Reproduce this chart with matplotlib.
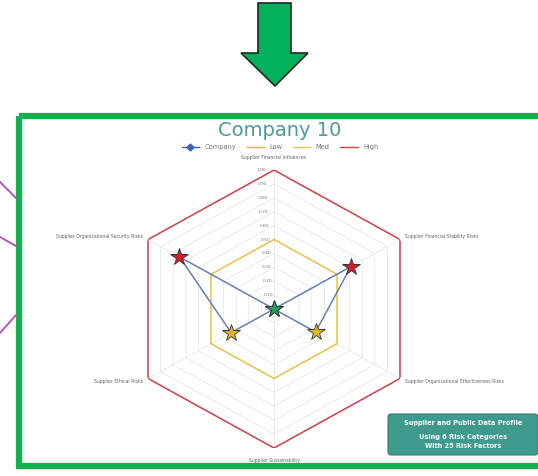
"""Radar profile for one supplier, placed on a slide-like frame."""

import numpy as np
import matplotlib.pyplot as plt
from matplotlib.lines import Line2D
from matplotlib.patches import Polygon, FancyBboxPatch

categories = [
    "Supplier Financial Influences",
    "Supplier Financial Stability Risks",
    "Supplier Organizational Effectiveness Risks",
    "Supplier Sustainability",
    "Supplier Ethical Risks",
    "Supplier Organizational Security Risks",
]
company = [0.0, 0.61, 0.33, 0.0, 0.34, 0.75]
low = [0.0, 0.0, 0.0, 0.0, 0.0, 0.0]
med = [0.5, 0.5, 0.5, 0.5, 0.5, 0.5]
high = [1.0, 1.0, 1.0, 1.0, 1.0, 1.0]
r_ticks = [0.0, 0.1, 0.2, 0.3, 0.4, 0.5, 0.6, 0.7, 0.8, 0.9, 1.0]

W, H = 538, 476
fig = plt.figure(figsize=(W / 100, H / 100), dpi=100)

# decoration layer in pixel coordinates
deco = fig.add_axes([0, 0, 1, 1])
deco.set_xlim(0, W)
deco.set_ylim(H, 0)
deco.axis("off")

arrow = [(258, 3), (291, 3), (291, 53), (308, 53), (275, 86), (241, 53), (258, 53)]
deco.add_patch(Polygon(arrow, closed=True, facecolor="#00b05a", edgecolor="#1a2a20", lw=1.2))
deco.add_patch(plt.Rectangle((19, 116), 540, 350, fill=False, edgecolor="#12b04c", lw=4.5))
for (x0, y0), (x1, y1) in [((0, 182), (16, 198)), ((0, 237), (16, 246)), ((0, 333), (16, 315))]:
    deco.plot([x0, x1], [y0, y1], color="#b04cb0", lw=1.3)

deco.add_patch(FancyBboxPatch((388, 414), 150, 41, boxstyle="round,pad=0,rounding_size=3",
                              facecolor="#3d9a8c", edgecolor="#2f7f73", lw=0.8))
deco.text(463, 423, "Supplier and Public Data Profile", color="white", fontsize=4.8,
          fontweight="bold", ha="center", va="center")
deco.text(463, 437, "Using 6 Risk Categories", color="white", fontsize=4.8,
          fontweight="bold", ha="center", va="center")
deco.text(463, 446, "With 25 Risk Factors", color="white", fontsize=4.8,
          fontweight="bold", ha="center", va="center")

deco.text(280, 131, "Company 10", color="#4f9a94", fontsize=14, ha="center", va="center")

# radar chart (slightly wider than tall, as in the slide)
cx, cy, rad_x, rad_y = 274, 309, 145.5, 139
ax = fig.add_axes([(cx - rad_x) / W, (H - cy - rad_y) / H, 2 * rad_x / W, 2 * rad_y / H],
                  projection="polar")
ax.set_aspect("auto")
ax.set_theta_offset(np.pi / 2)
ax.set_theta_direction(-1)
ax.set_ylim(0, 1)
ax.axis("off")

n = len(categories)
theta = np.linspace(0, 2 * np.pi, n, endpoint=False)
theta_c = np.append(theta, theta[0])


def closed(vals):
    return np.append(vals, vals[0])


for r in r_ticks[1:]:
    ax.plot(theta_c, [r] * (n + 1), color="#e8e8e8", lw=0.6, zorder=1)
for t in theta:
    ax.plot([t, t], [0, 1], color="#e8e8e8", lw=0.6, zorder=1)

ax.plot(theta_c, closed(low), color="#f0a848", lw=1.0, zorder=2)
ax.plot(theta_c, closed(med), color="#e8c44a", lw=1.1, zorder=2)
ax.plot(theta_c, closed(high), color="#d0404c", lw=1.1, zorder=2)
ax.plot(theta_c, closed(company), color="#6a7fb0", lw=1.1, zorder=3)

for t, v in zip(theta, company):
    if v >= 0.6:
        c = "#d41c2a"
    elif v >= 0.25:
        c = "#e2b41e"
    else:
        c = "#1ea060"
    ax.plot(t, v, marker="*", markersize=13, color=c, markeredgecolor="#333333",
            markeredgewidth=0.6, zorder=4)

for r in r_ticks:
    ax.text(np.deg2rad(-3), r, f"{r:.2f}", fontsize=3.2, color="#777777",
            ha="right", va="center", zorder=5)

label_pos = [
    (0, 1.09, "center", "center"),
    (theta[1], 1.04, "left", "center"),
    (theta[2], 1.04, "left", "center"),
    (theta[3], 1.09, "center", "center"),
    (theta[4], 1.04, "right", "center"),
    (theta[5], 1.04, "right", "center"),
]
for (t, r, ha, va), name in zip(label_pos, categories):
    ax.text(t, r, name, fontsize=3.3, color="#666666", ha=ha, va=va)

handles = [
    Line2D([], [], color="#3a60b0", marker="D", markersize=3.5, lw=1.0),
    Line2D([], [], color="#f0a848", lw=1.0),
    Line2D([], [], color="#e8c44a", lw=1.0),
    Line2D([], [], color="#d0404c", lw=1.0),
]
fig.legend(handles, ["Company", "Low", "Med", "High"], loc="center",
           bbox_to_anchor=(280 / W, 1 - 147 / H), ncol=4, frameon=False,
           fontsize=4.8, handlelength=2.6, columnspacing=1.6, labelcolor="#777777")

fig.savefig("out.png", dpi=100)
